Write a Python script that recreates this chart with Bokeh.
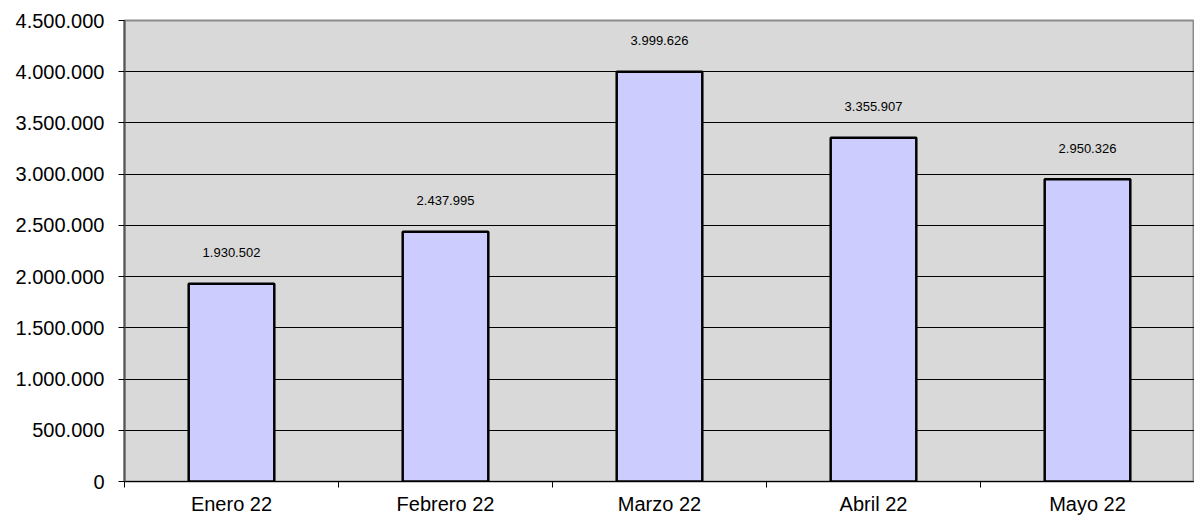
from bokeh.plotting import figure
from bokeh.models import ColumnDataSource, FixedTicker, Range1d
from bokeh.core.properties import value
from bokeh.embed import file_html
from bokeh.resources import INLINE

months = ["Enero 22", "Febrero 22", "Marzo 22", "Abril 22", "Mayo 22"]
amounts = [1930502, 2437995, 3999626, 3355907, 2950326]
y_ticks = [0, 500000, 1000000, 1500000, 2000000, 2500000, 3000000, 3500000, 4000000, 4500000]

def fmt(v):
    return f"{v:,}".replace(",", ".")

xs = [i + 0.5 for i in range(len(months))]
src = ColumnDataSource(dict(x=xs, top=amounts, lbl=[fmt(v) for v in amounts]))

p = figure(width=1194, height=517, output_backend="svg", toolbar_location=None,
           x_range=Range1d(0, len(months)), y_range=Range1d(0, 4500000),
           min_border_left=124, min_border_right=0, min_border_top=20, min_border_bottom=30)
p.background_fill_color = "#D9D9D9"
p.border_fill_color = "white"
p.outline_line_color = "#8C8C8C"
p.outline_line_width = 2

p.vbar(x="x", top="top", bottom=0, width=0.4, source=src,
       fill_color="#CCCCFF", line_color="black", line_width=2.5)
p.text(x="x", y="top", text="lbl", source=src, y_offset=-31,
       text_align="center", text_baseline="middle", text_font_size="13px",
       text_font=value("Liberation Sans"), text_color="black")

# x axis
p.xaxis.ticker = FixedTicker(ticks=xs, minor_ticks=list(range(len(months) + 1)))
p.xaxis.major_label_overrides = {x: m for x, m in zip(xs, months)}
p.xaxis.major_tick_out = 0
p.xaxis.major_tick_in = 0
p.xaxis.minor_tick_out = 6
p.xaxis.minor_tick_in = 0
p.xaxis.minor_tick_line_color = "black"
p.xaxis.axis_line_color = "black"
p.xaxis.axis_line_width = 1
p.xaxis.major_label_text_font = "Liberation Sans"
p.xaxis.major_label_text_font_size = "20px"
p.xaxis.major_label_text_color = "black"
p.xaxis.major_label_standoff = 5

# y axis
p.yaxis.ticker = FixedTicker(ticks=y_ticks)
p.yaxis.major_label_overrides = {t: fmt(t) for t in y_ticks}
p.yaxis.major_tick_out = 6
p.yaxis.major_tick_in = 0
p.yaxis.minor_tick_line_color = None
p.yaxis.axis_line_color = "#555555"
p.yaxis.axis_line_width = 2
p.yaxis.major_tick_line_color = "black"
p.yaxis.major_label_text_font = "Liberation Sans"
p.yaxis.major_label_text_font_size = "20px"
p.yaxis.major_label_text_color = "black"
p.yaxis.major_label_standoff = 14

p.xgrid.grid_line_color = None
p.ygrid.grid_line_color = "black"
p.ygrid.grid_line_width = 1
p.ygrid.ticker = FixedTicker(ticks=y_ticks)

open("out.html", "w").write(file_html(p, INLINE))
